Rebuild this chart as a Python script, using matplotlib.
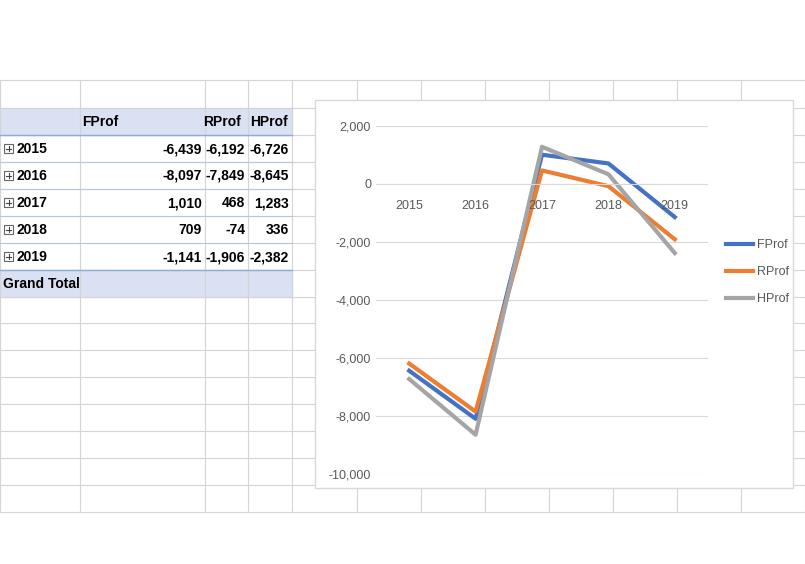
import matplotlib.pyplot as plt
from matplotlib.patches import Rectangle

plt.rcParams['font.family'] = ['Liberation Sans Narrow', 'Liberation Sans', 'DejaVu Sans']

years = ['2015', '2016', '2017', '2018', '2019']
fprof = [-6439, -8097, 1010, 709, -1141]
rprof = [-6192, -7849, 468, -74, -1906]
hprof = [-6726, -8645, 1283, 336, -2382]
series_names = ['FProf', 'RProf', 'HProf']
colors = ['#4472C4', '#ED7D31', '#A5A5A5']

W, H = 805, 564
fig = plt.figure(figsize=(W / 100, H / 100), dpi=100)

# sheet background in pixel coordinates
bg = fig.add_axes([0, 0, 1, 1])
bg.set_xlim(0, W)
bg.set_ylim(H, 0)
bg.axis('off')
row_lines = [80, 108, 135, 162, 189, 216, 243, 270, 297, 323, 350, 377, 404, 431, 458, 485, 512]
col_lines = [0, 80, 205, 248, 292, 357, 421, 485, 549, 613, 677, 741, 805]
for y in row_lines:
    bg.plot([0, W], [y, y], color='#D4D4D4', lw=0.8)
for x in col_lines:
    bg.plot([x, x], [80, 512], color='#D4D4D4', lw=0.8)

# pivot table
bg.add_patch(Rectangle((0, 108), 292, 27, color='#D9E1F2'))
bg.add_patch(Rectangle((0, 270), 292, 27, color='#D9E1F2'))
bg.plot([0, 292], [135, 135], color='#8EA9DB', lw=1)
bg.plot([0, 292], [270, 270], color='#8EA9DB', lw=1)
for y in [162, 189, 216, 243]:
    bg.plot([0, 292], [y, y], color='#B4C6E7', lw=0.8)
tf = dict(fontsize=10, fontweight='bold', fontstretch='condensed')
bg.text(100, 122, 'FProf', ha='center', va='center', **tf)
bg.text(241, 122, 'RProf', ha='right', va='center', **tf)
bg.text(288, 122, 'HProf', ha='right', va='center', **tf)
for i, yr in enumerate(years):
    yc = 149 + i * 27
    bg.add_patch(Rectangle((4, yc - 5), 9, 9, fill=False, ec='#666666', lw=0.8))
    bg.plot([6, 11], [yc - 0.5, yc - 0.5], color='#444444', lw=0.8)
    bg.plot([8.5, 8.5], [yc - 3, yc + 2], color='#444444', lw=0.8)
    bg.text(16, yc, yr, va='center', **tf)
    for x, v in zip([202, 245, 289], [fprof[i], rprof[i], hprof[i]]):
        bg.text(x, yc, f'{v:,}', ha='right', va='center', **tf)
bg.text(3, 284, 'Grand Total', va='center', **tf)

# chart box
bg.add_patch(Rectangle((315, 100), 478, 388, fc='white', ec='#D9D9D9', lw=1, zorder=3))

# chart axes: x 376-708 px, y 126-474 px
ax = fig.add_axes([376 / W, 1 - 474 / H, 332 / W, 348 / H], zorder=5)
ax.patch.set_alpha(0)
xs = range(len(years))
for name, vals, c in zip(series_names, [fprof, rprof, hprof], colors):
    ax.plot(xs, vals, color=c, lw=3, label=name)
ax.set_xlim(-0.5, 4.5)
ax.set_ylim(-10000, 2000)
ax.set_yticks(range(-10000, 2001, 2000))
ax.set_yticklabels([f'{v:,}' for v in range(-10000, 2001, 2000)], fontsize=9, color='#595959')
ax.yaxis.grid(True, color='#D9D9D9', lw=0.8)
ax.set_axisbelow(True)
ax.tick_params(length=0)
ax.set_xticks([])
for s in ax.spines.values():
    s.set_visible(False)
ax.axhline(0, color='#D9D9D9', lw=0.8)
for i, yr in enumerate(years):
    ax.text(i, -750, yr, fontsize=9, color='#595959', ha='center', va='center')
leg = ax.legend(loc='center left', bbox_to_anchor=(1.02, 0.58), frameon=False,
                fontsize=9, handlelength=2.2, labelspacing=1.2, handletextpad=0.3)
for t in leg.get_texts():
    t.set_color('#595959')

fig.savefig('out.png', dpi=100)
